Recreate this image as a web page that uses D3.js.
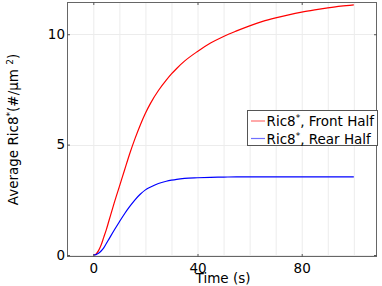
<!DOCTYPE html>
<html><head><meta charset="utf-8">
<script src="https://cdn.jsdelivr.net/npm/d3@7"></script>
<style>body{margin:0;background:#fff;} svg{display:block;font-family:"DejaVu Sans",sans-serif;}</style>
</head><body><svg id="c" width="382" height="286"></svg>
<script>
const times = [0,1,2,3,4,5,6,8,10,12,14,16,18,20,22,25,28,30,32,35,40,45,50,55,60,65,70,75,80,85,90,95,100];
const frontHalf = [0,0.04,0.2,0.45,0.8,1.15,1.55,2.35,3.1,3.85,4.6,5.27,5.88,6.42,6.88,7.45,7.92,8.2,8.45,8.78,9.22,9.6,9.9,10.15,10.38,10.58,10.74,10.88,11.0,11.1,11.19,11.27,11.33];
const rearHalf = [0,0.02,0.08,0.18,0.32,0.52,0.72,1.12,1.5,1.87,2.2,2.5,2.75,2.95,3.08,3.24,3.34,3.39,3.43,3.47,3.5,3.52,3.53,3.54,3.54,3.54,3.54,3.54,3.54,3.54,3.54,3.54,3.54];
const xTicks = [0,40,80];
const xGrid = [0,10,20,30,40,50,60,70,80,90,100];
const yTicks = [0,5,10];
const seriesNames = ["Front Half","Rear Half"];
const seriesColors = ["#ff0000","#0000ff"];
const legendColors = ["#ff7070","#7070ff"];

const svg = d3.select("#c");
const L=67, R=377, T=2, B=257;
const x = d3.scaleLinear().domain([-10.1,108.9]).range([L,R]);
const y = d3.scaleLinear().domain([-0.09,11.46]).range([B,T]);

// grid
svg.append("g").selectAll("line").data(xGrid).join("line")
  .attr("x1",d=>x(d)+0.5).attr("x2",d=>x(d)+0.5).attr("y1",T).attr("y2",B)
  .attr("stroke","#ececec").attr("stroke-width",1);
svg.append("g").selectAll("line").data(yTicks).join("line")
  .attr("y1",d=>Math.round(y(d))+0.5).attr("y2",d=>Math.round(y(d))+0.5).attr("x1",L).attr("x2",R)
  .attr("stroke","#ececec").attr("stroke-width",1);

// curves
const series=[frontHalf,rearHalf];
series.forEach((s,i)=>{
  const line=d3.line().x((d,j)=>x(times[j])).y(d=>y(d)).curve(d3.curveMonotoneX);
  svg.append("path").datum(s).attr("d",line).attr("fill","none")
    .attr("stroke",seriesColors[i]).attr("stroke-width",1.2);
});

// frame
svg.append("rect").attr("x",L+0.5).attr("y",T+0.5).attr("width",R-L-1).attr("height",B-T-1)
  .attr("fill","none").attr("stroke","#666").attr("stroke-width",1);

// axes with inward ticks
const fs="13.5px";
const xb=svg.append("g").attr("transform",`translate(0,${B})`).call(d3.axisBottom(x).tickValues(xTicks).tickSize(-3).tickPadding(5).tickFormat(d3.format("d")));
const xt=svg.append("g").attr("transform",`translate(0,${T})`).call(d3.axisTop(x).tickValues(xTicks).tickSize(-3).tickFormat(""));
const yl=svg.append("g").attr("transform",`translate(${L},0)`).call(d3.axisLeft(y).tickValues(yTicks).tickSize(-3).tickPadding(3).tickFormat(d3.format("d")));
const yr=svg.append("g").attr("transform",`translate(${R},0)`).call(d3.axisRight(y).tickValues(yTicks).tickSize(-3).tickFormat(""));
[xb,xt,yl,yr].forEach(g=>{g.select(".domain").remove();g.selectAll("line").attr("stroke","#555");
  g.selectAll("text").attr("font-family","DejaVu Sans").attr("font-size",fs).attr("fill","#000");});
yl.selectAll("text").attr("dx",1);
xb.selectAll("text").attr("dy","0.85em");

// axis titles
svg.append("text").attr("x",223).attr("y",283).attr("text-anchor","middle")
  .attr("font-size",fs).attr("fill","#000").text("Time (s)");
const yt=svg.append("text").attr("transform",`translate(18,${(T+B)/2}) rotate(-90)`)
  .attr("text-anchor","middle").attr("font-size",fs).attr("fill","#000");
yt.append("tspan").text("Average Ric8");
yt.append("tspan").attr("font-size","9px").attr("dy",-5).text("*");
yt.append("tspan").attr("dy",5).text("(#/μm ");
yt.append("tspan").attr("font-size","9px").attr("dy",-5).text("2");
yt.append("tspan").attr("dy",5).text(")");

// legend
const lg=svg.append("g");
lg.append("rect").attr("x",247.5).attr("y",110.5).attr("width",130).attr("height",35)
  .attr("fill","#fff").attr("stroke","#555").attr("stroke-width",1);
seriesNames.forEach((n,i)=>{
  const yy=121+i*17.5;
  lg.append("line").attr("x1",251).attr("x2",265).attr("y1",yy).attr("y2",yy)
    .attr("stroke",legendColors[i]).attr("stroke-width",1.2);
  const t=lg.append("text").attr("x",266.5).attr("y",yy+5).attr("font-size",fs).attr("fill","#000");
  t.append("tspan").text("Ric8");
  t.append("tspan").attr("font-size","9px").attr("dy",-5).text("*");
  t.append("tspan").attr("dy",5).text(", "+n);
});
</script></body></html>
